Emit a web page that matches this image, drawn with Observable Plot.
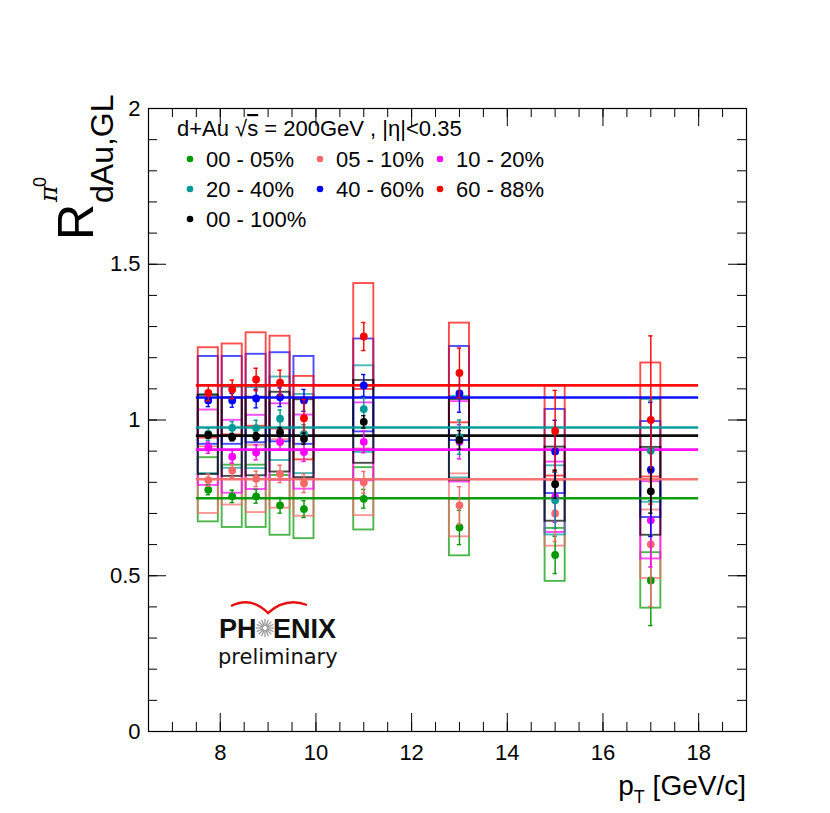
<!DOCTYPE html>
<html><head><meta charset="utf-8">
<script src="https://cdn.jsdelivr.net/npm/d3@7"></script>
<script src="https://cdn.jsdelivr.net/npm/@observablehq/plot@0.6"></script>
<style>html,body{margin:0;padding:0;background:#fff;overflow:hidden}</style>
</head><body><div id="chart"></div>
<script>
// ---- data ----
const pT = [7.75, 8.25, 8.75, 9.25, 9.75, 11, 13, 15, 17];
const centralities = ["00 - 05%", "05 - 10%", "10 - 20%", "20 - 40%", "40 - 60%", "60 - 88%", "00 - 100%"];
const seriesColors = ["#009900", "#f76a6a", "#ff00ff", "#009999", "#0000ff", "#ff0000", "#000000"];

const R_00_05  = [0.776, 0.755, 0.755, 0.726, 0.714, 0.747, 0.655, 0.567, 0.485];
const R_05_10  = [0.807, 0.838, 0.811, 0.827, 0.797, 0.800, 0.726, 0.700, 0.601];
const R_10_20  = [0.911, 0.882, 0.896, 0.929, 0.897, 0.930, 0.930, 0.752, 0.678];
const R_20_40  = [0.955, 0.975, 0.974, 1.004, 0.955, 1.035, 0.945, 0.742, 0.901];
const R_40_60  = [1.063, 1.063, 1.069, 1.073, 1.063, 1.111, 1.085, 0.899, 0.841];
const R_60_88  = [1.087, 1.098, 1.130, 1.120, 1.006, 1.268, 1.151, 0.965, 1.000];
const R_00_100 = [0.952, 0.945, 0.947, 0.961, 0.940, 0.994, 0.936, 0.794, 0.771];

const stat_00_05  = [0.016, 0.020, 0.022, 0.025, 0.027, 0.030, 0.055, 0.060, 0.145];
const stat_05_10  = [0.020, 0.022, 0.025, 0.028, 0.030, 0.035, 0.060, 0.090, 0.200];
const stat_10_20  = [0.018, 0.020, 0.024, 0.025, 0.030, 0.035, 0.055, 0.080, 0.150];
const stat_20_40  = [0.020, 0.020, 0.025, 0.028, 0.030, 0.040, 0.055, 0.090, 0.160];
const stat_40_60  = [0.020, 0.022, 0.030, 0.030, 0.035, 0.035, 0.060, 0.100, 0.215];
const stat_60_88  = [0.025, 0.030, 0.036, 0.040, 0.060, 0.045, 0.080, 0.130, 0.270];
const stat_00_100 = [0.010, 0.012, 0.013, 0.015, 0.018, 0.020, 0.030, 0.045, 0.070];

const sys_00_05  = [0.103, 0.100, 0.100, 0.096, 0.095, 0.100, 0.091, 0.085, 0.089];
const sys_05_10  = [0.107, 0.111, 0.108, 0.110, 0.106, 0.107, 0.101, 0.105, 0.110];
const sys_10_20  = [0.121, 0.117, 0.119, 0.123, 0.119, 0.125, 0.129, 0.113, 0.124];
const sys_20_40  = [0.127, 0.130, 0.130, 0.134, 0.127, 0.139, 0.131, 0.111, 0.165];
const sys_40_60  = [0.141, 0.141, 0.142, 0.143, 0.141, 0.149, 0.151, 0.135, 0.154];
const sys_60_88  = [0.145, 0.146, 0.150, 0.149, 0.134, 0.170, 0.160, 0.145, 0.183];
const sys_00_100 = [0.127, 0.126, 0.126, 0.128, 0.125, 0.133, 0.130, 0.119, 0.141];

const fitLevels = [0.749, 0.810, 0.905, 0.976, 1.072, 1.111, 0.950];
const fitRange = [7.5, 18];

const xTickLabels = [8, 10, 12, 14, 16, 18];
const yTickLabels = [0, 0.5, 1, 1.5, 2];
const xMinorTicks = d3.range(7, 19, 0.5);
const xMajorTicks = [8, 10, 12, 14, 16, 18];
const yMinorTicks = d3.range(0.1, 2, 0.1);
const yMajorTicks = [0.5, 1, 1.5];

const legendTitle = "d+Au √s = 200GeV , |η|<0.35";
const xTitle = ["p", "T", " [GeV/c]"];

// ---- build tables ----
const values = [R_00_05, R_05_10, R_10_20, R_20_40, R_40_60, R_60_88, R_00_100];
const stats = [stat_00_05, stat_05_10, stat_10_20, stat_20_40, stat_40_60, stat_60_88, stat_00_100];
const syss = [sys_00_05, sys_05_10, sys_10_20, sys_20_40, sys_40_60, sys_60_88, sys_00_100];
const series = centralities.map((c, i) => ({
  name: c, color: seriesColors[i], fit: fitLevels[i],
  rows: pT.map((x, j) => ({x, y: values[i][j], stat: stats[i][j], sys: syss[i][j]}))
}));

const W = 830, H = 813, mL = 148, mR = 84, mT = 108, mB = 82;
const innerW = W - mL - mR, innerH = H - mT - mB;
const majorLen = 18, minorLen = 9;
const boxHalf = 0.21, capHalf = 0.045;

const marks = [];
for (const s of series) {
  marks.push(Plot.rect(s.rows, {x1: d => d.x - boxHalf, x2: d => d.x + boxHalf,
    y1: d => d.y - d.sys, y2: d => d.y + d.sys, fill: "none", stroke: s.color,
    strokeWidth: 1.9, strokeOpacity: 0.7}));
}
for (const s of series) {
  marks.push(Plot.ruleY([s.fit], {y: d => d, x1: fitRange[0], x2: fitRange[1], stroke: s.color, strokeWidth: 2.6, strokeOpacity: 0.95}));
}
for (const s of series) {
  marks.push(Plot.ruleX(s.rows, {x: "x", y1: d => d.y - d.stat, y2: d => d.y + d.stat, stroke: s.color, strokeWidth: 1.4}));
  marks.push(Plot.ruleY(s.rows, {y: d => d.y + d.stat, x1: d => d.x - capHalf, x2: d => d.x + capHalf, stroke: s.color, strokeWidth: 1.4}));
  marks.push(Plot.ruleY(s.rows, {y: d => d.y - d.stat, x1: d => d.x - capHalf, x2: d => d.x + capHalf, stroke: s.color, strokeWidth: 1.4}));
  marks.push(Plot.dot(s.rows, {x: "x", y: "y", r: 3.9, fill: s.color, stroke: "none"}));
}
marks.push(
  Plot.tickX(xMinorTicks, {x: d => d, insetTop: innerH - minorLen, stroke: "black"}),
  Plot.tickX(xMajorTicks, {x: d => d, insetTop: innerH - majorLen, stroke: "black"}),
  Plot.tickX(xMinorTicks, {x: d => d, insetBottom: innerH - minorLen, stroke: "black"}),
  Plot.tickX(xMajorTicks, {x: d => d, insetBottom: innerH - majorLen, stroke: "black"}),
  Plot.tickY(yMinorTicks, {y: d => d, insetRight: innerW - minorLen, stroke: "black"}),
  Plot.tickY(yMajorTicks, {y: d => d, insetRight: innerW - majorLen, stroke: "black"}),
  Plot.tickY(yMinorTicks, {y: d => d, insetLeft: innerW - minorLen, stroke: "black"}),
  Plot.tickY(yMajorTicks, {y: d => d, insetLeft: innerW - majorLen, stroke: "black"}),
  Plot.axisX({ticks: xTickLabels, tickSize: 0, tickPadding: 13, fontSize: 22, label: null, tickFormat: d => String(d)}),
  Plot.axisY({ticks: yTickLabels, tickSize: 0, tickPadding: 8, fontSize: 22, label: null, tickFormat: d => String(d)}),
  Plot.frame({stroke: "black", strokeWidth: 1.2})
);

const chart = Plot.plot({
  width: W, height: H,
  marginLeft: mL, marginRight: mR, marginTop: mT, marginBottom: mB,
  x: {domain: [6.5, 19]},
  y: {domain: [0, 2]},
  style: {fontFamily: "'Liberation Sans', Arial, Helvetica, sans-serif", fontSize: "22px", background: "white", color: "black"},
  marks
});
document.getElementById("chart").appendChild(chart);

// ---- annotations: legend, axis titles, logo ----
const svg = d3.select(chart);
const F = "'Liberation Sans', Arial, Helvetica, sans-serif";
const ann = svg.append("g").attr("text-anchor", "start").attr("font-family", F).attr("fill", "black");

const t = ann.append("text").attr("x", 177).attr("y", 136).attr("font-size", 22);
const parts = legendTitle.split("√s");
t.append("tspan").text(parts[0] + "√");
t.append("tspan").attr("text-decoration", "overline").text("s");
t.append("tspan").text(parts[1]);

const colX = [190, 320, 440], rowY = [159, 189, 219];
series.forEach((s, i) => {
  const cx = colX[i % 3], cy = rowY[Math.floor(i / 3)];
  ann.append("circle").attr("cx", cx).attr("cy", cy).attr("r", 3.3).attr("fill", s.color);
  ann.append("text").attr("x", cx + 16).attr("y", cy + 8).attr("font-size", 22).text(s.name);
});

// y-axis title: R^{pi0}_{dAu,GL}
const yl = ann.append("g").attr("transform", "translate(93,240) rotate(-90)");
yl.append("text").attr("x", 0).attr("y", 0).attr("font-size", 50).text("R");
yl.append("text").attr("x", 37).attr("y", 20).attr("font-size", 32).text("dAu,GL");
yl.append("text").attr("x", 38).attr("y", -36).attr("font-size", 25).attr("font-family", "'DejaVu Serif', serif").attr("font-style", "italic").text("π");
yl.append("text").attr("x", 53).attr("y", -47).attr("font-size", 18).text("0");

// x-axis title
const xt = ann.append("text").attr("x", 746).attr("y", 795).attr("text-anchor", "end").attr("font-size", 28);
xt.append("tspan").text(xTitle[0]);
xt.append("tspan").attr("dy", 8).attr("font-size", 18).text(xTitle[1]);
xt.append("tspan").attr("dy", -8).text(xTitle[2]);

// PHENIX preliminary logo
const logo = ann.append("g");
logo.append("path").attr("d", "M231,606 Q251,596 268,613 Q286,597 307,605").attr("fill", "none").attr("stroke", "#e81010").attr("stroke-width", 2.4);
logo.append("text").attr("x", 219).attr("y", 638).attr("font-weight", "bold").attr("font-size", 27).attr("fill", "#111").text("PH");
const sx = 265, sy = 628;
for (let k = 0; k < 16; k++) {
  const a = k * Math.PI / 8;
  logo.append("line").attr("x1", sx + 2 * Math.cos(a)).attr("y1", sy + 2 * Math.sin(a))
    .attr("x2", sx + 9 * Math.cos(a)).attr("y2", sy + 9 * Math.sin(a))
    .attr("stroke", "#888").attr("stroke-width", 1.1);
}
logo.append("text").attr("x", 273).attr("y", 638).attr("font-weight", "bold").attr("font-size", 27).attr("fill", "#111").text("ENIX");
logo.append("text").attr("x", 218).attr("y", 664).attr("font-family", "'DejaVu Sans', sans-serif").attr("font-size", 21).attr("fill", "#111").text("preliminary");
</script>
</body></html>
